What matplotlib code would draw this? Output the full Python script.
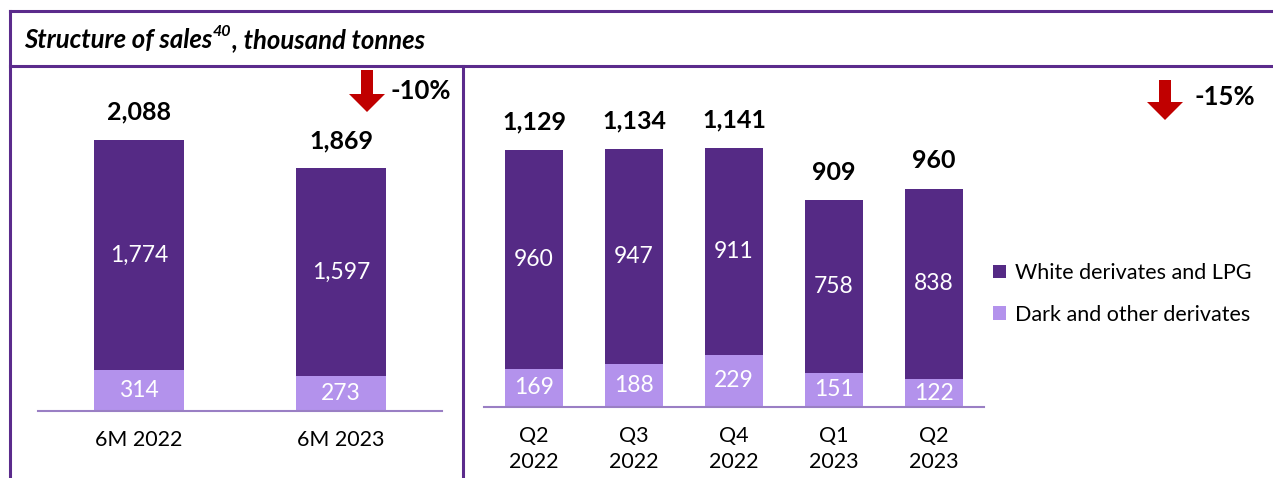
import matplotlib.pyplot as plt
from matplotlib.patches import Polygon
from matplotlib.lines import Line2D

plt.rcParams['font.family'] = ['Lato', 'DejaVu Sans']

# data
half_labels = ["6M 2022", "6M 2023"]
half_white = [1774, 1597]
half_dark = [314, 273]
half_total = [2088, 1869]

q_labels = ["Q2\n2022", "Q3\n2022", "Q4\n2022", "Q1\n2023", "Q2\n2023"]
q_white = [960, 947, 911, 758, 838]
q_dark = [169, 188, 229, 151, 122]
q_total = [1129, 1134, 1141, 909, 960]

series_names = ["White derivates and LPG", "Dark and other derivates"]
dark_purple = "#552a85"
light_purple = "#b392ec"
frame_col = "#5b2b8c"
base_col = "#9a7fc4"
red = "#c00000"

W, H = 1273, 478
fig = plt.figure(figsize=(W / 100, H / 100), dpi=100)


def px_axes(x0, y0, x1, y1):
    # pixel box (top-left origin) -> figure axes
    return fig.add_axes([x0 / W, 1 - y1 / H, (x1 - x0) / W, (y1 - y0) / H])


def fig_xy(x, y):
    return x / W, 1 - y / H


def draw_bars(ax, labels, white, dark, total, width, ymax):
    xs = list(range(len(labels)))
    ax.bar(xs, dark, width, color=light_purple, label=series_names[1])
    ax.bar(xs, white, width, bottom=dark, color=dark_purple, label=series_names[0])
    for i in xs:
        ax.text(i, dark[i] / 2, f"{dark[i]:,}", ha="center", va="center",
                color="white", fontsize=16.5)
        ax.text(i, dark[i] + white[i] / 2, f"{white[i]:,}", ha="center",
                va="center", color="white", fontsize=16.5)
        ax.annotate(f"{total[i]:,}", (i, total[i]), xytext=(0, 20),
                    textcoords="offset points", ha="center", va="center",
                    fontsize=18, fontweight="bold")
    ax.set_xlim(-0.5, len(labels) - 0.5)
    ax.set_ylim(0, ymax)
    ax.set_xticks(xs)
    ax.set_xticklabels(labels, fontsize=15.5, linespacing=1.35)
    ax.tick_params(axis="x", length=0, pad=14)
    ax.set_yticks([])
    for s in ["top", "right", "left"]:
        ax.spines[s].set_visible(False)
    ax.spines["bottom"].set_color(base_col)
    ax.spines["bottom"].set_linewidth(1.5)


ax1 = px_axes(38, 80, 442, 411)
draw_bars(ax1, half_labels, half_white, half_dark, half_total, 0.45, 331 / 0.1298)

ax2 = px_axes(484, 80, 984, 407)
draw_bars(ax2, q_labels, q_white, q_dark, q_total, 0.58, 327 / 0.2276)

# legend
h, l = ax2.get_legend_handles_labels()
fig.legend(h[::-1], l[::-1], loc="center left", bbox_to_anchor=fig_xy(974, 294),
           frameon=False, fontsize=15.5, handlelength=0.6, handleheight=0.6,
           handletextpad=0.4, labelspacing=1.0)

# frame lines
for (xa, ya, xb, yb) in [(10, 11, W, 11), (10, 66, W, 66), (10, 11, 10, H), (463, 66, 463, H)]:
    p0 = fig_xy(xa, ya)
    p1 = fig_xy(xb, yb)
    fig.add_artist(Line2D([p0[0], p1[0]], [p0[1], p1[1]], color=frame_col, lw=2.2))

# title
t = fig.text(*fig_xy(24, 40), "Structure of sales", fontsize=18.5, fontweight="bold",
             fontstyle="italic", va="center", ha="left")
fig.canvas.draw()
bb = t.get_window_extent()
sup = fig.text((bb.x1 + 0.5) / W, 1 - 32 / H, "40", fontsize=11.5, fontweight="bold",
               fontstyle="italic", va="center", ha="left")
fig.canvas.draw()
bb2 = sup.get_window_extent()
fig.text((bb2.x1 + 0.5) / W, 1 - 40 / H, ", thousand tonnes", fontsize=18.5,
         fontweight="bold", fontstyle="italic", va="center", ha="left")


# arrows
def down_arrow(cx, ytop, ybot):
    hw, sw, head = 18, 6, 18
    pts = [(cx - sw, ytop), (cx + sw, ytop), (cx + sw, ybot - head), (cx + hw, ybot - head),
           (cx, ybot), (cx - hw, ybot - head), (cx - sw, ybot - head)]
    fig.add_artist(Polygon([fig_xy(x, y) for x, y in pts], closed=True,
                           facecolor=red, edgecolor="none"))


down_arrow(367, 70, 112)
fig.text(*fig_xy(390, 91), "-10%", fontsize=18.5, fontweight="bold", va="center", ha="left")
down_arrow(1165, 80, 120)
fig.text(*fig_xy(1195, 97), "-15%", fontsize=18.5, fontweight="bold", va="center", ha="left")

fig.savefig("out.png", dpi=100)
